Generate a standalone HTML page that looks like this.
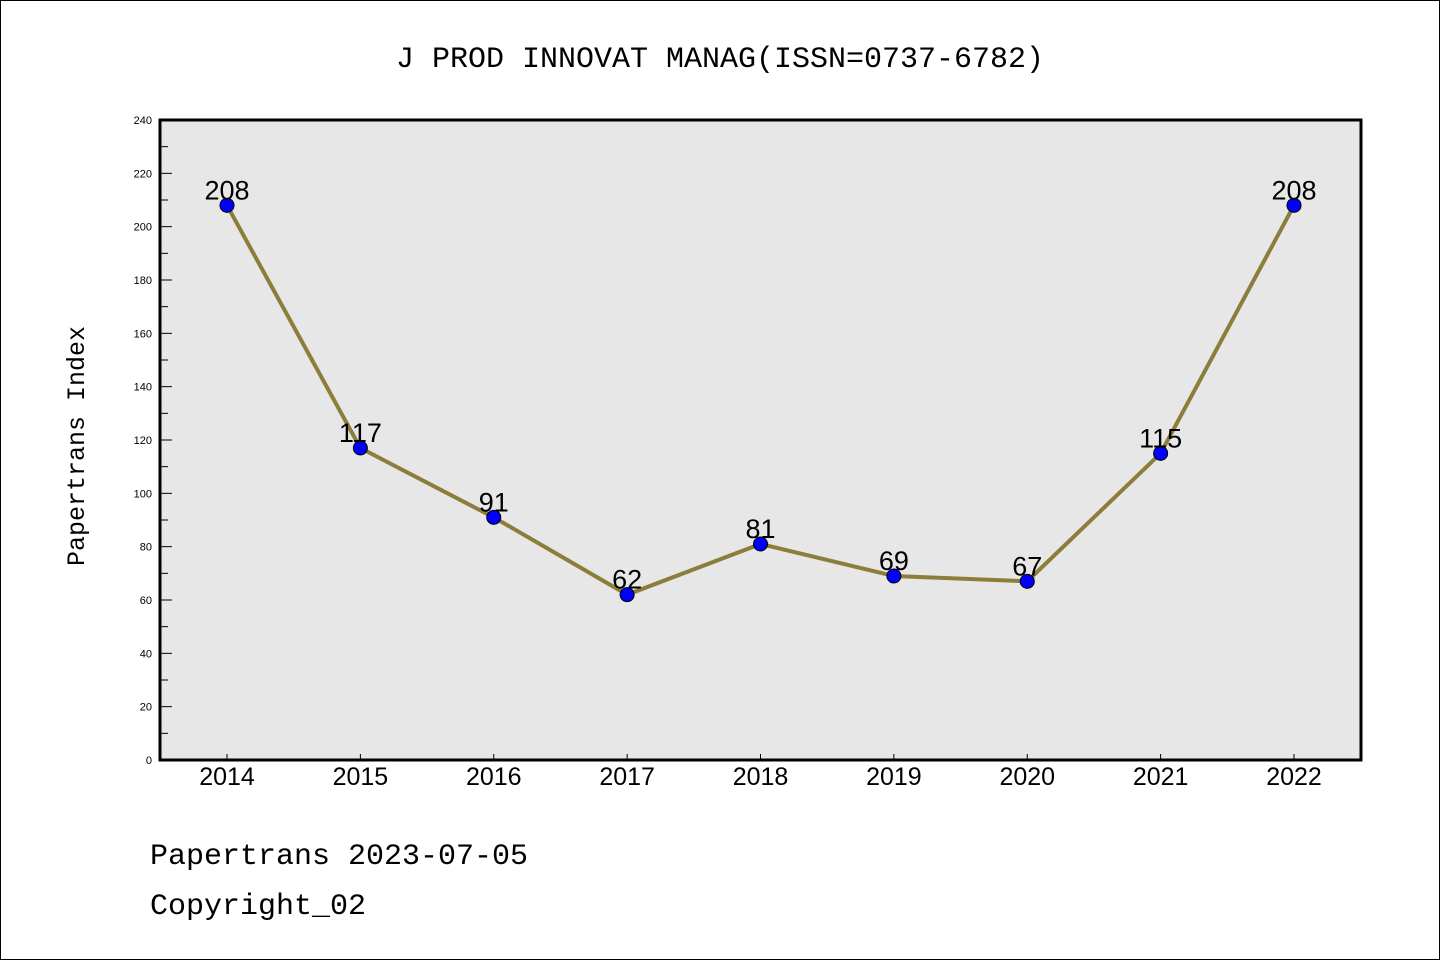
<!DOCTYPE html>
<html><head><meta charset="utf-8"><style>
body{margin:0;background:#fff}
svg{display:block}
text{font-family:"Liberation Sans",sans-serif}
.mono{font-family:"Liberation Mono",monospace}
</style></head><body>
<svg id="c" width="1440" height="960" xmlns="http://www.w3.org/2000/svg">
<rect x="0.5" y="0.5" width="1439" height="959" fill="#fff" stroke="#000"/>
<text class="mono" x="720" y="67" font-size="30" text-anchor="middle">J PROD INNOVAT MANAG(ISSN=0737-6782)</text>
<rect x="160" y="120" width="1201" height="640" fill="#e7e7e7"/>
<g id="axes"></g>
<g id="series"></g>
<rect x="160" y="120" width="1201" height="640" fill="none" stroke="#000" stroke-width="3"/>
<text class="mono" transform="translate(84,446) rotate(-90)" font-size="25" text-anchor="middle">Papertrans Index</text>
<text class="mono" x="150" y="864" font-size="30">Papertrans 2023-07-05</text>
<text class="mono" x="150" y="914" font-size="30">Copyright_02</text>
</svg>
<script>
const years = ["2014","2015","2016","2017","2018","2019","2020","2021","2022"];
const values = [208,117,91,62,81,69,67,115,208];
const yTicks = [0,20,40,60,80,100,120,140,160,180,200,220,240];
const NS="http://www.w3.org/2000/svg";
function X(i){return 227+i*(1294-227)/(years.length-1);}
function Y(v){return 760-v*640/240;}
function mk(t,a,p){const e=document.createElementNS(NS,t);for(const k in a)e.setAttribute(k,a[k]);p.appendChild(e);return e;}
const ax=document.getElementById('axes'), sr=document.getElementById('series');
yTicks.forEach((v,i)=>{
  const l=mk('line',{x1:160,x2:172,y1:Y(v),y2:Y(v),stroke:'#000','stroke-width':1},ax);
  
  
  const t=mk('text',{x:152,y:Y(v)+4,'font-size':11,'text-anchor':'end'},ax);
  t.textContent=v;
  
  
  if(i<yTicks.length-1){
    const m=mk('line',{x1:160,x2:168,y1:Y(v+10),y2:Y(v+10),stroke:'#000','stroke-width':1},ax);
    
    
  }
});
years.forEach((y,i)=>{
  const l=mk('line',{x1:X(i),x2:X(i),y1:760,y2:754,stroke:'#000','stroke-width':1},ax);
  
  
  const t=mk('text',{x:X(i),y:785,'font-size':25,'text-anchor':'middle'},ax);
  t.textContent=y;
  
  
});
const pl=mk('polyline',{points:values.map((v,i)=>X(i)+','+Y(v)).join(' '),fill:'none',stroke:'#8b7d3a','stroke-width':4},sr);


values.forEach((v,i)=>{
  const c=mk('circle',{cx:X(i),cy:Y(v),r:7,fill:'#0000ff',stroke:'#000','stroke-width':1},sr);
  
  
  const t=mk('text',{x:X(i),y:Y(v)-6,'font-size':27,'text-anchor':'middle'},sr);
  t.textContent=v;
  
  
});
</script>
</body></html>
